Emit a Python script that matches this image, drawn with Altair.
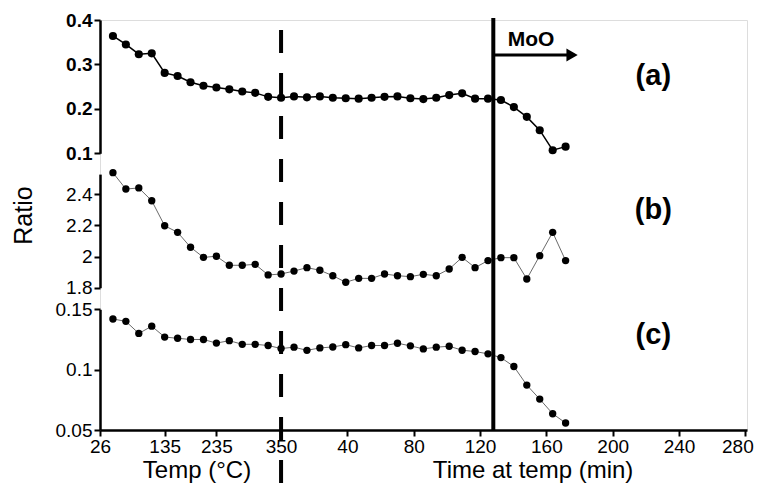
import altair as alt
import pandas as pd

# ---------------- data ----------------
x_pos = [-101.4, -93.6, -85.8, -78.0, -70.2, -62.4, -54.6, -46.8, -39.0, -31.2,
         -23.4, -15.6, -7.8, 0.0, 7.8, 15.6, 23.4, 31.2, 39.0, 46.8,
         54.6, 62.4, 70.2, 78.0, 85.8, 93.6, 101.4, 109.2, 117.0, 124.8,
         132.6, 140.4, 148.2, 156.0, 163.8, 171.6]

ratio_a = [0.364, 0.345, 0.323, 0.325, 0.281, 0.274, 0.260, 0.252, 0.248, 0.244,
           0.239, 0.236, 0.227, 0.225, 0.228, 0.226, 0.228, 0.225, 0.224, 0.223,
           0.225, 0.227, 0.228, 0.224, 0.222, 0.225, 0.231, 0.235, 0.223, 0.223,
           0.220, 0.204, 0.182, 0.152, 0.107, 0.115]

ratio_b = [2.539, 2.434, 2.441, 2.359, 2.198, 2.156, 2.060, 1.995, 2.002, 1.944,
           1.944, 1.950, 1.882, 1.888, 1.907, 1.929, 1.912, 1.877, 1.835, 1.860,
           1.860, 1.888, 1.877, 1.871, 1.886, 1.877, 1.920, 1.995, 1.929, 1.974,
           1.993, 1.993, 1.856, 2.006, 2.156, 1.974]

ratio_c = [0.142, 0.140, 0.130, 0.136, 0.127, 0.126, 0.125, 0.125, 0.122, 0.124,
           0.121, 0.121, 0.120, 0.1175, 0.1186, 0.116, 0.118, 0.1188, 0.1207, 0.118,
           0.120, 0.120, 0.1219, 0.1197, 0.1172, 0.1186, 0.1194, 0.1161, 0.115, 0.1131,
           0.110, 0.1026, 0.0872, 0.0756, 0.0635, 0.0558]

tick_pos = [-109.2, -70.2, -39.0, 0, 40, 80, 120, 160, 200, 240, 280]
tick_labels = ["26", "135", "235", "350", "40", "80", "120", "160", "200", "240", "280"]

heat_end_x = 0.0      # 350 °C reached (dashed line)
moo_x = 128.0         # MoO start (solid line)
arrow_end_x = 173.0
arrow_head_x = 175.5
moo_text_x = 150.8

panel_labels = ["(a)", "(b)", "(c)"]
panel_label_x = 224.5
x_titles = ["Temp (°C)", "Time at temp (min)"]
x_title_pos = [-50.7, 152.0]

FONT = "Liberation Sans"

df = pd.DataFrame({"x": x_pos, "a": ratio_a, "b": ratio_b, "c": ratio_c})

# label expression built from the tick lists
expr = "''"
for p, l in reversed(list(zip(tick_pos, tick_labels))):
    expr = f"abs(datum.value - ({p})) < 0.5 ? '{l}' : ({expr})"

x_enc = alt.X(
    "x:Q",
    scale=alt.Scale(domain=[-109.2, 281], nice=False, zero=False),
    axis=alt.Axis(values=tick_pos, labelExpr=expr, title=None, grid=False,
                  domainWidth=2.5, domainColor="black", tickColor="black",
                  tickWidth=2, tickSize=6, labelFontSize=19, labelFont=FONT,
                  labelColor="black", labelPadding=1, labelFlush=False,
                  labelOverlap=False,
                  labelOffset={"condition": {"test": f"datum.value == {tick_pos[-1]}",
                                             "value": -8},
                               "value": 0}),
)


def panel(field, dom, rng, vals, fmt, weight, lw, lc, size, **extra):
    y = alt.Y(
        f"{field}:Q",
        scale=alt.Scale(domain=dom, range=rng, nice=False, zero=False),
        axis=alt.Axis(orient="left", values=vals, format=fmt, grid=False,
                      domainWidth=2.5, domainColor="black", tickColor="black",
                      tickWidth=2, tickSize=6, labelFontSize=19, labelFont=FONT,
                      labelFontWeight=weight, labelColor="black", labelPadding=2,
                      labelOverlap=False, labelFlush=False, **extra),
    )
    line = alt.Chart(df).mark_line(color=lc, strokeWidth=lw).encode(x=x_enc, y=y)
    pts = alt.Chart(df).mark_circle(color="black", opacity=1, size=size).encode(x=x_enc, y=y)
    return alt.layer(line, pts)


pa = panel("a", [0.1, 0.4], [133.3, 0], [0.1, 0.2, 0.3, 0.4], ".1f", "bold",
           1.5, "black", 66, title=None)
pb = panel("b", [1.8, 2.53], [267.7, 154.1], [1.8, 2.0, 2.2, 2.4], ".2~f", "normal",
           0.8, "#444444", 54, title="Ratio", titleX=-77, titleY=195,
           titleFontSize=25, titleFont=FONT, titleFontWeight="normal",
           titleColor="black", titleAngle=270, titleAlign="center",
           titleBaseline="middle")
pc = panel("c", [0.05, 0.15], [410, 289.3], [0.05, 0.1, 0.15], ".2~f", "normal",
           0.8, "#444444", 54, title=None)

dash_rule = alt.Chart(pd.DataFrame({"x": [heat_end_x]})).mark_rule(
    color="black", strokeWidth=4, strokeDash=[23, 20]
).encode(x=x_enc, y=alt.value(10), y2=alt.value(472))

solid_rule = alt.Chart(pd.DataFrame({"x": [moo_x]})).mark_rule(
    color="black", strokeWidth=4
).encode(x=x_enc, y=alt.value(-2), y2=alt.value(410))

arrow_line = alt.Chart(pd.DataFrame({"x": [moo_x], "x2": [arrow_end_x]})).mark_rule(
    color="black", strokeWidth=3
).encode(x=x_enc, x2="x2:Q", y=alt.value(35))

arrow_head = alt.Chart(pd.DataFrame({"x": [arrow_head_x]})).mark_point(
    shape="triangle-right", filled=True, color="black", opacity=1, size=170
).encode(x=x_enc, y=alt.value(35))

moo_text = alt.Chart(pd.DataFrame({"x": [moo_text_x], "t": ["MoO"]})).mark_text(
    font=FONT, fontSize=21, fontWeight="bold", color="black", align="center",
    baseline="middle"
).encode(x=x_enc, y=alt.value(20), text="t:N")

lab_layers = []
for lab, yv in zip(panel_labels, [56, 190, 315]):
    lab_layers.append(
        alt.Chart(pd.DataFrame({"x": [panel_label_x], "t": [lab]})).mark_text(
            font=FONT, fontSize=29, fontWeight="bold", color="black",
            align="center", baseline="middle"
        ).encode(x=x_enc, y=alt.value(yv), text="t:N")
    )

title_layer = alt.Chart(pd.DataFrame({"x": x_title_pos, "t": x_titles})).mark_text(
    font=FONT, fontSize=24, color="black", align="center", baseline="middle"
).encode(x=x_enc, y=alt.value(451), text="t:N")

chart = alt.layer(
    pa, pb, pc, dash_rule, solid_rule, arrow_line, arrow_head, moo_text,
    *lab_layers, title_layer
).resolve_scale(y="independent").properties(
    width=647, height=410,
    autosize=alt.AutoSizeParams(type="none"),
    padding={"left": 92, "top": 12, "right": 7, "bottom": 58},
).configure_view(stroke=None).configure(background="white")

chart.save("out.html", embed_options={"renderer": "svg", "actions": False})
